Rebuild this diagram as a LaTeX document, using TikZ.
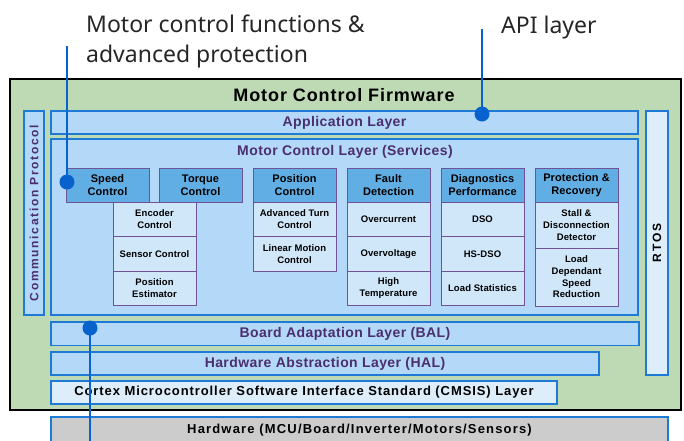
\documentclass[tikz,border=0pt]{standalone}
\usepackage{fontspec}
\setmainfont{Noto Sans}
\newfontfamily\blockfont{Liberation Sans}
\usetikzlibrary{positioning}

\definecolor{fwgreen}{RGB}{190,218,180}
\definecolor{layeredge}{RGB}{31,122,214}
\definecolor{layerfill}{RGB}{180,216,248}
\definecolor{palefill}{RGB}{221,237,250}
\definecolor{headfill}{RGB}{97,174,228}
\definecolor{subfill}{RGB}{207,231,249}
\definecolor{subedge}{RGB}{112,82,150}
\definecolor{layertext}{RGB}{75,46,110}
\definecolor{hwgray}{RGB}{204,204,204}
\definecolor{calloutblue}{RGB}{8,98,206}

% bold block font: size, leading, letter spacing
\newcommand{\blk}[3]{\blockfont\bfseries\fontsize{#1}{#2}\selectfont\addfontfeature{LetterSpace=#3}}

\begin{document}
\begin{tikzpicture}[x=1pt,y=-1pt,
    box/.style={anchor=north west, inner sep=0pt, outer sep=0pt, align=center},
    layer/.style={box, draw=layeredge, line width=1.6pt, fill=layerfill, text=layertext, font=\blk{14}{16}{3}},
    svchead/.style={box, draw=subedge, line width=0.8pt, fill=headfill, minimum width=83pt, minimum height=34pt, font=\blk{11}{13.3}{1}},
    svcsub/.style={box, draw=subedge, line width=0.8pt, fill=subfill, minimum width=83pt, minimum height=34.5pt, font=\blk{9.5}{11.7}{1}},
    callout/.style={calloutblue, line width=2.6pt},
    dot/.style={circle, fill=calloutblue, minimum size=15pt, inner sep=0pt},
    calltext/.style={anchor=north west, inner sep=0pt, align=left, text=black!85, font=\fontsize{23}{30}\selectfont}
    ]
\useasboundingbox (0,0) rectangle (684,440);

% firmware frame and layers
\node[box, draw=black, line width=1.6pt, fill=fwgreen, minimum width=671pt, minimum height=331pt] (fw) at (10,79) {};
\node[font=\blk{18}{20}{5}] (fwtitle) at (344,95) {Motor Control Firmware};

\node[layer, minimum width=587pt, minimum height=23pt] (app) at (51,111) {Application Layer};
\node[layer, minimum width=587pt, minimum height=176pt] (mcl) at (51,139) {};
\node[text=layertext, font=\blk{14}{16}{3}] (mcltitle) at (345,152) {Motor Control Layer (Services)};
\node[layer, minimum width=588pt, minimum height=23.5pt] (bal) at (51,322) {Board Adaptation Layer (BAL)};
\node[layer, minimum width=548pt, minimum height=23pt] (hal) at (51,352) {Hardware Abstraction Layer (HAL)};
\node[layer, fill=palefill, text=black, font=\blk{13}{15}{7}, minimum width=506pt, minimum height=23pt] (cmsis) at (51,381) {Cortex Microcontroller Software Interface Standard (CMSIS) Layer};
\node[layer, fill=hwgray, text=black, font=\blk{13}{15}{9}, minimum width=617pt, minimum height=27pt] (hw) at (51,417) {Hardware (MCU/Board/Inverter/Motors/Sensors)};

% side bars
\node[layer, anchor=center, rotate=90, minimum width=204pt, minimum height=20pt, font=\blk{12}{14}{14}] (comm) at (34,213) {Communication Protocol};
\node[layer, anchor=center, rotate=90, fill=palefill, text=black, minimum width=264pt, minimum height=22pt, font=\blk{12}{14}{18}] (rtos) at (657,243) {RTOS};

% services
\node[svchead] (speed) at (66,168) {Speed\\Control};
\node[svchead] (torque) at (159,168) {Torque\\Control};
\node[svcsub] (encoder) at (113,202) {Encoder\\Control};
\node[svcsub, below=0pt of encoder] (sensor) {Sensor Control};
\node[svcsub, below=0pt of sensor] (estimator) {Position\\Estimator};

\node[svchead] (position) at (253,168) {Position\\Control};
\node[svcsub, below=0pt of position] (turn) {Advanced Turn\\Control};
\node[svcsub, below=0pt of turn] (linear) {Linear Motion\\Control};

\node[svchead] (fault) at (347,168) {Fault\\Detection};
\node[svcsub, below=0pt of fault] (overcurrent) {Overcurrent};
\node[svcsub, below=0pt of overcurrent] (overvoltage) {Overvoltage};
\node[svcsub, below=0pt of overvoltage] (temperature) {High\\Temperature};

\node[svchead] (diag) at (441,168) {Diagnostics\\Performance};
\node[svcsub, below=0pt of diag] (dso) {DSO};
\node[svcsub, below=0pt of dso] (hsdso) {HS-DSO};
\node[svcsub, below=0pt of hsdso] (loadstats) {Load Statistics};

\node[svchead] (protection) at (535,168) {Protection \&\\Recovery};
\node[svcsub, below=0pt of protection, minimum height=46pt] (stall) {Stall \&\\Disconnection\\Detector};
\node[svcsub, below=0pt of stall, minimum height=58pt] (speedred) {Load\\Dependant\\Speed\\Reduction};

% callouts
\node[calltext] (mcflabel) at (86,15) {Motor control functions \&\\advanced protection};
\node[calltext] (apilabel) at (501,16) {API layer};
\coordinate (mcftop) at (67,46);
\coordinate (apitop) at (482,29);
\coordinate (baltail) at (90,444);
\node[dot] (speeddot) at (67,182) {};
\node[dot] (apidot) at (482,114) {};
\node[dot] (baldot) at (90,328) {};
\draw[callout] (mcftop) -- (speeddot.center);
\draw[callout] (apitop) -- (apidot.center);
\draw[callout] (baldot.center) -- (baltail);
\end{tikzpicture}
\end{document}
